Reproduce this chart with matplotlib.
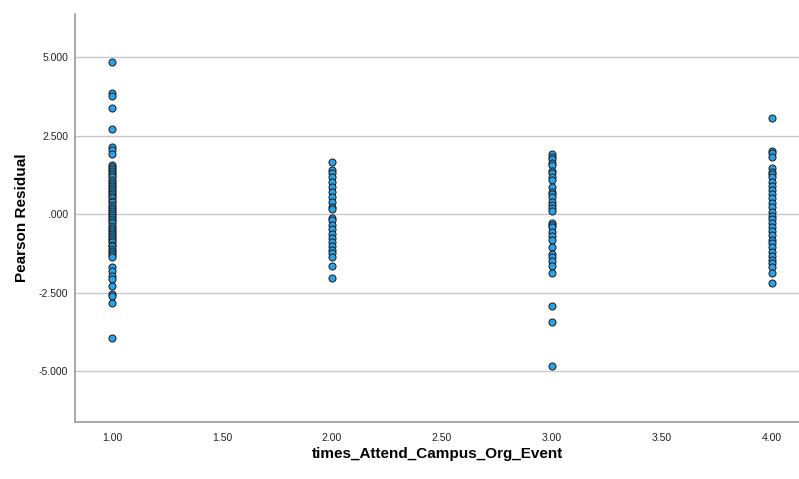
import numpy as np
import matplotlib.pyplot as plt

plt.rcParams['font.family'] = ['Liberation Sans', 'DejaVu Sans']

# Pearson residuals, one list per category
resid_1 = [4.83, 3.84, 3.77, 3.39, 2.70, 2.14, 2.04, 1.90,
           1.56, 1.50, 1.44, 1.37, 1.30, 1.24, 1.17, 1.10, 1.03, 0.97,
           0.90, 0.83, 0.77, 0.70, 0.63, 0.57, 0.50, 0.43, 0.37, 0.30,
           0.23, 0.17, 0.10, 0.03, -0.03, -0.10, -0.17, -0.23, -0.30,
           -0.37, -0.43, -0.50, -0.57, -0.63, -0.70, -0.77, -0.83, -0.90,
           -0.97, -1.03, -1.10, -1.17, -1.23, -1.30, -1.36,
           -1.68, -1.80, -1.96, -2.08, -2.29, -2.53, -2.61, -2.84, -3.96]
resid_2 = [1.65, 1.40, 1.30, 1.17, 1.03, 0.87, 0.71, 0.55, 0.39, 0.23,
           0.15, -0.11, -0.19, -0.35, -0.49, -0.62, -0.77, -0.88, -1.02,
           -1.15, -1.25, -1.38, -1.65, -2.05]
resid_3 = [1.91, 1.83, 1.74, 1.63, 1.56, 1.38, 1.30, 1.19, 1.08, 0.87,
           0.71, 0.64, 0.55, 0.39, 0.29, 0.18, 0.11, -0.28, -0.35, -0.42,
           -0.56, -0.70, -0.83, -1.04, -1.28, -1.36, -1.49, -1.66, -1.89,
           -2.93, -3.43, -4.83]
resid_4 = [3.07, 2.02, 1.93, 1.81, 1.46, 1.35, 1.27, 1.17, 1.03, 0.89,
           0.76, 0.64, 0.50, 0.34, 0.21, 0.07, -0.06, -0.17, -0.30, -0.40,
           -0.53, -0.67, -0.81, -0.93, -1.06, -1.20, -1.34, -1.46, -1.57,
           -1.68, -1.87, -2.19]

groups = [1.0, 2.0, 3.0, 4.0]
residuals = [resid_1, resid_2, resid_3, resid_4]
x_ticks = [1.0, 1.5, 2.0, 2.5, 3.0, 3.5, 4.0]
y_ticks = [-5.0, -2.5, 0.0, 2.5, 5.0]
y_tick_labels = ['-5.000', '-2.500', '.000', '2.500', '5.000']

fig = plt.figure(figsize=(7.99, 4.79), dpi=100)
ax = fig.add_axes([75 / 799, 1 - 422 / 479, 724 / 799, 408 / 479])

for g, r in zip(groups, residuals):
    ax.scatter(np.full(len(r), g), r, s=26, facecolor='#29a2ea',
               edgecolor='#1a1a1a', linewidths=0.7, zorder=3)

ax.set_xlim(1 - 37 / 220, 4 + 27 / 220)
ax.set_ylim(-6.62, 6.37)
ax.set_xticks(x_ticks)
ax.set_xticklabels([f'{t:.2f}' for t in x_ticks])
ax.set_yticks(y_ticks)
ax.set_yticklabels(y_tick_labels)
ax.tick_params(length=0, labelsize=7.5, colors='#222222')
ax.tick_params(axis='x', pad=8)
ax.tick_params(axis='y', pad=5)

ax.grid(axis='y', color='#c8c8c8', linewidth=1)
ax.set_axisbelow(True)
for side in ['top', 'right']:
    ax.spines[side].set_visible(False)
for side in ['left', 'bottom']:
    ax.spines[side].set_color('#9a9a9a')
    ax.spines[side].set_linewidth(1.2)

ax.set_xlabel('times_Attend_Campus_Org_Event', fontsize=11,
              fontweight='bold', labelpad=3)
ax.set_ylabel('Pearson Residual', fontsize=11, fontweight='bold',
              labelpad=7)

fig.savefig('out.png', dpi=100)
